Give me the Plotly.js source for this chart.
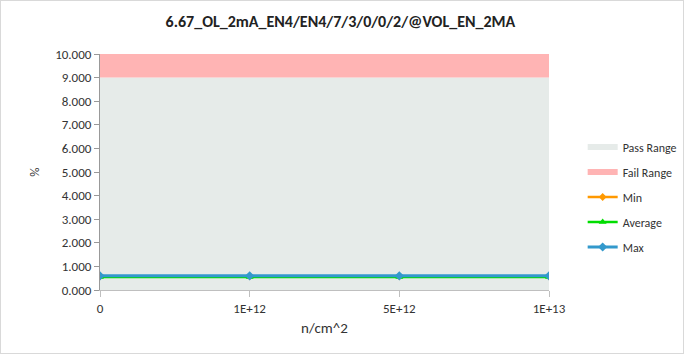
<!DOCTYPE html>
<html><head><meta charset="utf-8">
<script src="https://cdn.plot.ly/plotly-3.0.1.min.js"></script>
<style>
html,body{margin:0;padding:0;background:#fff;}
#frame{position:absolute;left:0;top:0;width:682px;height:352px;border:1px solid #d9d9d9;}
#chart{position:absolute;left:0;top:0;width:685px;height:355px;}
</style></head>
<body><div id="frame"></div><div id="chart"></div>
<script>
const categories = ['0', '1E+12', '5E+12', '1E+13'];
const passRange = [9, 9, 9, 9];
const failRange = [10, 10, 10, 10];
const minVals = [0.58, 0.58, 0.58, 0.58];
const avgVals = [0.55, 0.55, 0.55, 0.55];
const maxVals = [0.60, 0.60, 0.60, 0.60];

const traces = [
  {x: categories, y: passRange, name: 'Pass Range', legendgroup: 'a', type: 'scatter', mode: 'none', fill: 'tozeroy', fillcolor: '#e6ebe9', hoverinfo: 'skip'},
  {x: categories, y: failRange, name: 'Fail Range', legendgroup: 'b', type: 'scatter', mode: 'none', fill: 'tonexty', fillcolor: '#ffb4b4', hoverinfo: 'skip'},
  {x: categories, y: minVals, name: 'Min', legendgroup: 'c', type: 'scatter', mode: 'lines+markers', line: {color: '#ff9900', width: 2.5}, marker: {symbol: 'diamond', size: 6, color: '#ff9900'}},
  {x: categories, y: avgVals, name: 'Average', legendgroup: 'd', type: 'scatter', mode: 'lines+markers', line: {color: '#00dd00', width: 2.5}, marker: {symbol: 'triangle-up', size: 7, color: '#00dd00'}},
  {x: categories, y: maxVals, name: 'Max', legendgroup: 'e', type: 'scatter', mode: 'lines+markers', line: {color: '#3399cc', width: 3}, marker: {symbol: 'diamond', size: 7, color: '#3399cc'}}
];

const layout = {
  width: 685, height: 355,
  paper_bgcolor: 'rgba(0,0,0,0)', plot_bgcolor: 'rgba(0,0,0,0)',
  margin: {l: 100, r: 136, t: 54, b: 65, autoexpand: false},
  font: {family: 'Carlito, Calibri, "Open Sans", sans-serif', size: 12, color: '#333'},
  title: {text: '<b>6.67_OL_2mA_EN4/EN4/7/3/0/0/2/@VOL_EN_2MA</b>', x: 0.497, xanchor: 'center', y: 0.94, yanchor: 'middle', font: {size: 16, color: '#222'}},
  showlegend: true,
  legend: {x: 1.075, y: 0.394, xanchor: 'left', yanchor: 'middle', font: {size: 12, color: '#333'}, tracegroupgap: 6, itemwidth: 30, traceorder: 'grouped'},
  xaxis: {type: 'category', range: [0, 3], showgrid: false, zeroline: false, showline: true, linecolor: '#bfbfbf', ticks: 'outside', ticklen: 6, tickcolor: '#bfbfbf', tickfont: {size: 13, color: '#333'},
    title: {text: 'n/cm^2', font: {size: 15, color: '#333'}, standoff: 7}},
  yaxis: {range: [0, 10], dtick: 1, tickformat: '.3f', showgrid: false, zeroline: false, showline: true, linecolor: '#999', ticks: 'outside', ticklen: 5, tickcolor: '#999', tickfont: {size: 13, color: '#333'},
    title: {text: '%', font: {size: 13, color: '#333'}, standoff: 12}}
};

Plotly.newPlot('chart', traces, layout, {displayModeBar: false, staticPlot: true});
</script></body></html>
